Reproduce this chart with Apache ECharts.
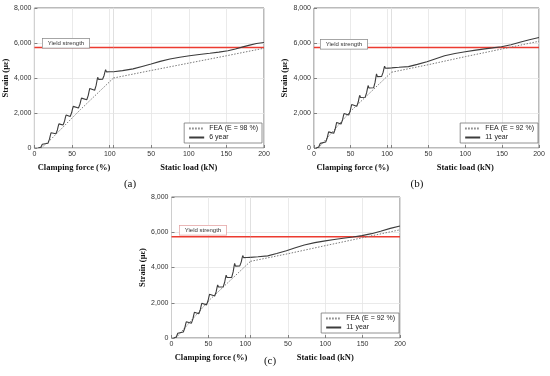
<!DOCTYPE html>
<html><head><meta charset="utf-8">
<script src="https://cdn.jsdelivr.net/npm/echarts@6/dist/echarts.min.js"></script>
<style>html,body{margin:0;padding:0;background:#fff}#c{width:550px;height:376px}</style>
</head><body><div id="c"></div>
<script>
// ---------- data ----------
const yieldStrength = 5750;
const yMax = 8000;
const yInterval = 2000;
const clampTicks = 50;
const loadTicks = 50;
const loadMax = 200;

// Panel (a) : 6 year, FEA (E = 98 %)
const aNames = ['FEA (E = 98 %)', '6 year'];
const aClampTest = [[5,0],[7.5,10],[8.5,45],[9.5,120],[10.5,216],[11.5,300],[12.1,276],[12.7,260],
 [18,270],[19,352],[20,504],[21,699],[22,870],[22.6,828],[23.2,800],
 [28.5,810],[29.5,887],[30.5,1032],[31.5,1218],[32.5,1380],[33.1,1332],[33.7,1300],
 [38,1310],[39,1387],[40,1532],[41,1718],[42,1880],[42.6,1826],[43.2,1790],
 [47.5,1800],[48.5,1879],[49.5,2026],[50.5,2215],[51.5,2380],[52.1,2320],[52.7,2280],
 [58.5,2290],[59.5,2366],[60.5,2508],[61.5,2690],[62.5,2850],[63.1,2790],[63.7,2750],
 [69.5,2760],[70.5,2848],[71.5,3010],[72.5,3218],[73.5,3400],[74.1,3334],[74.7,3290],
 [80,3300],[81,3403],[82,3590],[83,3830],[84,4040],[84.6,3968],[85.2,3920],
 [90.5,3930],[91.5,4004],[92.5,4144],[93.5,4323],[94.5,4480],[95.1,4402],[95.7,4350],
 [100,4355],[105,4360]];
const aClampFEA = [[9,0],[22,500],[61,2190],[105,4000]];
const aLoadTest = [[0,4360],[12,4420],[26,4520],[38,4660],[50,4800],[62,4950],[75,5090],[88,5190],[101,5270],
 [114,5340],[128,5410],[140,5480],[152,5560],[162,5660],[172,5780],[181,5880],[190,5975],[200,6030]];
const aLoadFEA = [[0,4000],[50,4430],[100,4850],[150,5270],[200,5700]];

// Panel (b) : 11 year, FEA (E = 92 %)
const bNames = ['FEA (E = 92 %)', '11 year'];
const bClampTest = [[3,0],[5.5,10],[6.5,56],[7.5,148],[8.5,266],[9.5,370],[10.1,346],[10.7,330],
 [16,340],[17,419],[18,566],[19,755],[20,920],[20.6,866],[21.2,830],
 [27,840],[28,925],[29,1082],[30,1284],[31,1460],[31.6,1400],[32.2,1360],
 [37,1370],[38,1452],[39,1604],[40,1799],[41,1970],[41.6,1910],[42.2,1870],
 [47.5,1880],[48.5,1962],[49.5,2114],[50.5,2309],[51.5,2480],[52.1,2414],[52.7,2370],
 [58.5,2380],[59.5,2466],[60.5,2626],[61.5,2831],[62.5,3010],[63.1,2938],[63.7,2890],
 [70,2900],[71,2992],[72,3162],[73,3380],[74,3570],[74.6,3486],[75.2,3430],
 [81.5,3440],[82.5,3550],[83.5,3750],[84.5,4006],[85.5,4230],[86.1,4140],[86.7,4080],
 [92.5,4090],[93.5,4170],[94.5,4320],[95.5,4512],[96.5,4680],[97.1,4608],[97.7,4560],
 [102,4565],[106,4570]];
const bClampFEA = [[6,0],[50,2100],[106,4330]];
const bLoadTest = [[0,4580],[10,4610],[23,4650],[35,4780],[48,4930],[60,5100],[72,5270],[86,5400],[100,5500],
 [112,5580],[124,5650],[137,5720],[149,5790],[162,5900],[174,6040],[187,6190],[200,6310]];
const bLoadFEA = [[0,4330],[50,4760],[100,5220],[150,5660],[200,6100]];

// Panel (c) : 11 year, FEA (E = 92 %)
const cNames = ['FEA (E = 92 %)', '11 year'];
const cClampTest = [[3,0],[5.5,10],[6.5,56],[7.5,148],[8.5,266],[9.5,370],[10.1,346],[10.7,330],
 [16,340],[17,419],[18,566],[19,755],[20,920],[20.6,866],[21.2,830],
 [27,840],[28,925],[29,1082],[30,1284],[31,1460],[31.6,1400],[32.2,1360],
 [37,1370],[38,1452],[39,1604],[40,1799],[41,1970],[41.6,1910],[42.2,1870],
 [47.5,1880],[48.5,1962],[49.5,2114],[50.5,2309],[51.5,2480],[52.1,2414],[52.7,2370],
 [58.5,2380],[59.5,2466],[60.5,2626],[61.5,2831],[62.5,3010],[63.1,2938],[63.7,2890],
 [70,2900],[71,2992],[72,3162],[73,3380],[74,3570],[74.6,3486],[75.2,3430],
 [81.5,3440],[82.5,3550],[83.5,3750],[84.5,4006],[85.5,4230],[86.1,4140],[86.7,4080],
 [92.5,4090],[93.5,4170],[94.5,4320],[95.5,4512],[96.5,4680],[97.1,4608],[97.7,4560],
 [102,4565],[107,4575]];
const cClampFEA = [[6,0],[50,2100],[107,4350]];
const cLoadTest = [[0,4575],[10,4610],[23,4660],[35,4790],[48,4950],[60,5120],[72,5280],[86,5410],[100,5510],
 [112,5590],[124,5660],[137,5730],[149,5810],[162,5920],[174,6060],[187,6220],[200,6350]];
const cLoadFEA = [[0,4350],[50,4780],[100,5240],[150,5690],[200,6140]];

// ---------- layout ----------
const panels = [
  {names:aNames, clampTest:aClampTest, clampFEA:aClampFEA, loadTest:aLoadTest, loadFEA:aLoadFEA,
   clampMax:105, left:33, div:113.5, right:264, top:8, bottom:148,
   legendRight:288, legendBottom:233, yl:[42,38], ylBorder:'#888', tag:'(a)', tagPos:[130,184]},
  {names:bNames, clampTest:bClampTest, clampFEA:bClampFEA, loadTest:bLoadTest, loadFEA:bLoadFEA,
   clampMax:106, left:314, div:391.5, right:539, top:8, bottom:148,
   legendRight:12, legendBottom:233, yl:[320,39], ylBorder:'#888', tag:'(b)', tagPos:[417,184]},
  {names:cNames, clampTest:cClampTest, clampFEA:cClampFEA, loadTest:cLoadTest, loadFEA:cLoadFEA,
   clampMax:107, left:171.5, div:250.5, right:400, top:197, bottom:338,
   legendRight:151, legendBottom:43, yl:[179,225], ylBorder:'#e3a0a0', tag:'(c)', tagPos:[270,361]}
];

const sans = 'Liberation Sans';
const serif = 'Liberation Serif';
const grid = [], xAxis = [], yAxis = [], series = [], legend = [], graphic = [];
const fmt = v => String(v).replace(/\B(?=(\d{3})+(?!\d))/g, ',');
const splitStyle = () => ({show:true, lineStyle:{color:'#e4e4e4', width:0.8}});
const tickStyle = () => ({show:true, inside:true, length:3, lineStyle:{color:'#666', width:0.8}});
const nameStyle = () => ({fontFamily:serif, fontWeight:'bold', fontSize:8.5, color:'#111'});
const labelStyle = () => ({fontFamily:sans, fontSize:7, color:'#333'});

panels.forEach((p, i) => {
  const gl = 2*i, gr = 2*i+1;
  const h = p.bottom - p.top;
  grid.push({left:p.left, top:p.top, width:p.div-p.left, height:h, show:true, borderColor:'#777', borderWidth:1, backgroundColor:'#fff'});
  grid.push({left:p.div, top:p.top, width:p.right-p.div, height:h, show:true, borderColor:'#777', borderWidth:1, backgroundColor:'#fff'});
  xAxis.push({type:'value', gridIndex:gl, min:0, max:p.clampMax, interval:clampTicks,
    name:'Clamping force (%)', nameLocation:'middle', nameGap:15, nameTextStyle:nameStyle(),
    axisLine:{show:false}, axisTick:tickStyle(), splitLine:splitStyle(),
    axisLabel:Object.assign({margin:3, formatter:v => (v % 50 === 0 ? String(v) : '')}, labelStyle())});
  xAxis.push({type:'value', gridIndex:gr, min:0, max:loadMax, interval:loadTicks,
    name:'Static load (kN)', nameLocation:'middle', nameGap:15, nameTextStyle:nameStyle(),
    axisLine:{show:false}, axisTick:tickStyle(), splitLine:splitStyle(),
    axisLabel:Object.assign({margin:3, showMinLabel:false}, labelStyle())});
  yAxis.push({type:'value', gridIndex:gl, min:0, max:yMax, interval:yInterval,
    name:'Strain (\u03bc\u03b5)', nameLocation:'middle', nameRotate:90, nameGap:22, nameTextStyle:nameStyle(),
    axisLine:{show:false}, axisTick:tickStyle(), splitLine:splitStyle(),
    axisLabel:Object.assign({margin:3, formatter:fmt}, labelStyle())});
  yAxis.push({type:'value', gridIndex:gr, min:0, max:yMax, interval:yInterval,
    axisLine:{show:false}, axisTick:{show:false}, splitLine:splitStyle(), axisLabel:{show:false}});

  const feaLine = () => ({color:'#7a7a7a', width:1, type:[1.5,1.5]});
  const testLine = () => ({color:'#3c3c3c', width:1.1, type:'solid'});
  const yieldLine = () => ({color:'#ec3b30', width:1.5, type:'solid'});
  // yield strength reference line, one per sub-grid
  series.push({type:'line', name:'Yield strength', xAxisIndex:gl, yAxisIndex:gl, silent:true,
    data:[[0, yieldStrength], [p.clampMax, yieldStrength]], symbol:'none', color:'#ec3b30', lineStyle:yieldLine(), z:1});
  series.push({type:'line', name:'Yield strength', xAxisIndex:gr, yAxisIndex:gr, silent:true,
    data:[[0, yieldStrength], [loadMax, yieldStrength]], symbol:'none', color:'#ec3b30', lineStyle:yieldLine(), z:1});
  series.push({type:'line', name:p.names[0], xAxisIndex:gl, yAxisIndex:gl, data:p.clampFEA, symbol:'none', color:'#7a7a7a', lineStyle:feaLine(), z:2});
  series.push({type:'line', name:p.names[0], xAxisIndex:gr, yAxisIndex:gr, data:p.loadFEA, symbol:'none', color:'#7a7a7a', lineStyle:feaLine(), z:2});
  series.push({type:'line', name:p.names[1], xAxisIndex:gl, yAxisIndex:gl, data:p.clampTest, symbol:'none', color:'#3c3c3c', lineStyle:testLine(), z:3});
  series.push({type:'line', name:p.names[1], xAxisIndex:gr, yAxisIndex:gr, data:p.loadTest, symbol:'none', color:'#3c3c3c', lineStyle:testLine(), z:3});

  legend.push({data:p.names, orient:'vertical', right:p.legendRight, bottom:p.legendBottom,
    itemWidth:15, itemHeight:6, itemGap:2, padding:[2,4,2,4], backgroundColor:'#fff',
    borderColor:'#777', borderWidth:0.8, selectedMode:false, itemStyle:{opacity:0},
    textStyle:{fontFamily:sans, fontSize:7, color:'#222'}});

  graphic.push({type:'text', left:p.yl[0], top:p.yl[1], z:100,
    style:{text:'Yield strength', fontFamily:sans, fontSize:6, fill:'#333', backgroundColor:'#fff',
      borderColor:p.ylBorder, borderWidth:0.7, padding:[1.5,5,1.5,5]}});
  graphic.push({type:'text', x:p.tagPos[0], y:p.tagPos[1], z:100,
    style:{text:p.tag, fontFamily:serif, fontSize:11, fill:'#111', align:'center', verticalAlign:'middle'}});
});

const chart = echarts.init(document.getElementById('c'), null, {renderer:'canvas'});
chart.setOption({animation:false, backgroundColor:'#fff', grid, xAxis, yAxis, series, legend, graphic});
</script></body></html>
